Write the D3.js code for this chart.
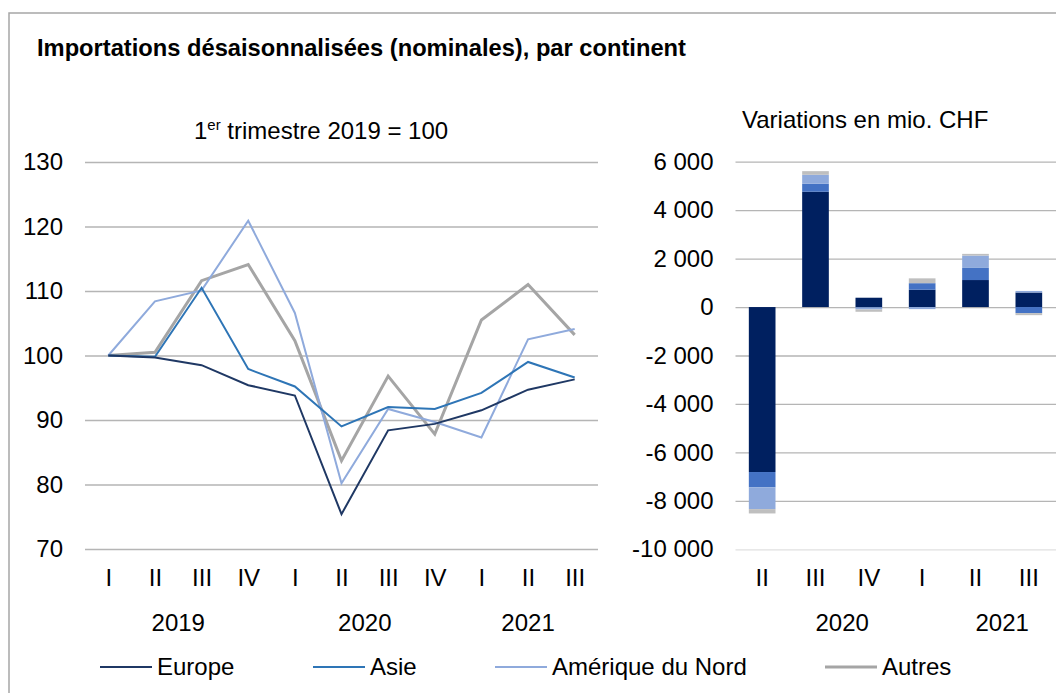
<!DOCTYPE html>
<html>
<head>
<meta charset="utf-8">
<script src="https://cdn.jsdelivr.net/npm/d3@7"></script>
<style>
  body { margin: 0; background: #fff; }
  svg { font-family: "Liberation Sans", Arial, sans-serif; }
</style>
</head>
<body>
<div id="chart"></div>
<script>
// quarters for the index chart (2019 I .. 2021 III)
var quarters = ["I", "II", "III", "IV", "I", "II", "III", "IV", "I", "II", "III"];
var quarterYears = ["2019", "2019", "2019", "2019", "2020", "2020", "2020", "2020", "2021", "2021", "2021"];

// index values, 1er trimestre 2019 = 100
var europe = [100, 99.7, 98.5, 95.4, 93.8, 75.4, 88.4, 89.4, 91.5, 94.7, 96.3];
var asie = [100, 99.8, 110.5, 97.9, 95.2, 89.0, 92.0, 91.7, 94.2, 99.0, 96.6];
var ameriqueNord = [100, 108.4, 110.1, 120.9, 106.6, 80.2, 91.7, 89.7, 87.3, 102.5, 104.1];
var autres = [100, 100.5, 111.6, 114.1, 102.3, 83.7, 96.8, 87.8, 105.5, 111.0, 103.2];

var lineTicks = [70, 80, 90, 100, 110, 120, 130];

// changes in mio. CHF (2020 II .. 2021 III)
var barQuarters = ["II", "III", "IV", "I", "II", "III"];
var barYears = ["2020", "2020", "2020", "2021", "2021", "2021"];
var europeVar = [-6810, 4760, 385, 715, 1115, 600];
var asieVar = [-630, 330, -25, 270, 500, -250];
var ameriqueVar = [-900, 370, -75, -85, 510, 65];
var autresVar = [-180, 150, -95, 200, 70, -85];

var barTicks = [-10000, -8000, -6000, -4000, -2000, 0, 2000, 4000, 6000];

var seriesNames = ["Europe", "Asie", "Amérique du Nord", "Autres"];
var lineColors = ["#1f3864", "#2e75b6", "#8faadc", "#a5a5a5"];
var lineWidths = [2, 2, 2, 3];
var barColors = ["#002060", "#4472c4", "#8faadc", "#bfbfbf"];

var fs = "24px";
var w = 1056, h = 693;
var svg = d3.select("#chart").append("svg")
    .attr("width", w)
    .attr("height", h);

// frame
svg.append("rect")
    .attr("x", 9).attr("y", 13)
    .attr("width", w + 10).attr("height", h + 10)
    .attr("fill", "none")
    .attr("stroke", "#a6a6a6")
    .attr("stroke-width", 1.5);

svg.append("text")
    .attr("x", 37).attr("y", 56)
    .attr("font-size", "23.7px")
    .attr("font-weight", "bold")
    .text("Importations désaisonnalisées (nominales), par continent");

var fmt = d3.formatLocale({ decimal: ",", thousands: " ", grouping: [3], currency: ["", ""], minus: "-" }).format(",");

// ---------- line chart ----------
var x = d3.scalePoint()
    .domain(d3.range(quarters.length))
    .range([85, 598])
    .padding(0.5);

var y = d3.scaleLinear()
    .domain([70, 130])
    .range([549, 162]);

var sub = svg.append("text")
    .attr("x", 194).attr("y", 139)
    .attr("font-size", fs);
sub.append("tspan").text("1");
sub.append("tspan").attr("font-size", "15px").attr("dy", -9).text("er");
sub.append("tspan").attr("dy", 9).text(" trimestre 2019 = 100");

var gy = svg.append("g")
    .attr("transform", "translate(85,0)")
    .call(d3.axisLeft(y).tickValues(lineTicks).tickSize(-(598 - 85)).tickPadding(22));
gy.select(".domain").remove();
gy.selectAll(".tick line").attr("stroke", "#b5b5b5").attr("stroke-width", 1.3);
gy.selectAll(".tick text").attr("font-size", fs).attr("fill", "#000").attr("font-family", null);

var gx = svg.append("g")
    .attr("transform", "translate(0,549)")
    .call(d3.axisBottom(x).tickFormat(i => quarters[i]).tickSize(0).tickPadding(20));
gx.select(".domain").remove();
gx.selectAll(".tick text").attr("font-size", fs).attr("fill", "#000").attr("font-family", null);

// year labels under the line chart
var lineYearGroups = d3.groups(d3.range(quarters.length), i => quarterYears[i]);
svg.selectAll(".lyear")
    .data(lineYearGroups)
    .enter().append("text")
    .attr("class", "lyear")
    .attr("x", d => d3.mean(d[1], i => x(i)))
    .attr("y", 631)
    .attr("text-anchor", "middle")
    .attr("font-size", fs)
    .text(d => d[0]);

var lineData = [europe, asie, ameriqueNord, autres];
var line = d3.line().x((d, i) => x(i)).y(d => y(d));
// draw in reverse so Europe sits on top
svg.append("g").selectAll("path")
    .data(lineData.map((d, k) => ({ values: d, k: k })).reverse())
    .enter().append("path")
    .attr("d", d => line(d.values))
    .attr("fill", "none")
    .attr("stroke", d => lineColors[d.k])
    .attr("stroke-width", d => lineWidths[d.k])
    .attr("stroke-linejoin", "miter");

// ---------- bar chart ----------
var xb = d3.scaleBand()
    .domain(d3.range(barQuarters.length))
    .range([735.5, 1055.5])
    .paddingInner(0.5)
    .paddingOuter(0.25);

var yb = d3.scaleLinear()
    .domain([-10000, 6000])
    .range([549.3, 161.7]);

svg.append("text")
    .attr("x", 742).attr("y", 128)
    .attr("font-size", fs)
    .text("Variations en mio. CHF");

var gyb = svg.append("g")
    .attr("transform", "translate(735.5,0)")
    .call(d3.axisLeft(yb).tickValues(barTicks).tickFormat(fmt).tickSize(-(1056 - 735.5)).tickPadding(22));
gyb.select(".domain").remove();
gyb.selectAll(".tick line")
    .attr("stroke", d => d === -10000 ? "#e0e0e0" : "#b5b5b5")
    .attr("stroke-width", 1.3);
gyb.selectAll(".tick text").attr("font-size", fs).attr("fill", "#000").attr("font-family", null);

var gxb = svg.append("g")
    .attr("transform", "translate(0,549.3)")
    .call(d3.axisBottom(xb).tickFormat(i => barQuarters[i]).tickSize(0).tickPadding(20));
gxb.select(".domain").remove();
gxb.selectAll(".tick text").attr("font-size", fs).attr("fill", "#000").attr("font-family", null);

// year labels under the bar chart (placed as in the original, between the last two quarters)
var barYearGroups = d3.groups(d3.range(barQuarters.length), i => barYears[i]);
svg.selectAll(".byear")
    .data(barYearGroups)
    .enter().append("text")
    .attr("class", "byear")
    .attr("x", d => d3.mean(d[1].slice(-2), i => xb(i) + xb.bandwidth() / 2))
    .attr("y", 631)
    .attr("text-anchor", "middle")
    .attr("font-size", fs)
    .text(d => d[0]);

var barRows = barQuarters.map((q, i) => ({
    i: i, s0: europeVar[i], s1: asieVar[i], s2: ameriqueVar[i], s3: autresVar[i]
}));
var stack = d3.stack()
    .keys(["s0", "s1", "s2", "s3"])
    .offset(d3.stackOffsetDiverging);
var stacked = stack(barRows);

svg.append("g").selectAll("g")
    .data(stacked)
    .enter().append("g")
    .attr("fill", (d, k) => barColors[k])
    .selectAll("rect")
    .data(d => d)
    .enter().append("rect")
    .attr("x", d => xb(d.data.i))
    .attr("width", xb.bandwidth())
    .attr("y", d => yb(d[1]))
    .attr("height", d => Math.max(0, yb(d[0]) - yb(d[1])));

// ---------- legend ----------
var legendX = [100, 313, 495, 825];
var lg = svg.append("g").selectAll("g")
    .data(seriesNames)
    .enter().append("g")
    .attr("transform", (d, k) => `translate(${legendX[k]},667)`);
lg.append("line")
    .attr("x1", 0).attr("x2", 52)
    .attr("stroke", (d, k) => lineColors[k])
    .attr("stroke-width", (d, k) => lineWidths[k]);
lg.append("text")
    .attr("x", 57).attr("dy", "0.35em")
    .attr("font-size", fs)
    .text(d => d);
</script>
</body>
</html>
